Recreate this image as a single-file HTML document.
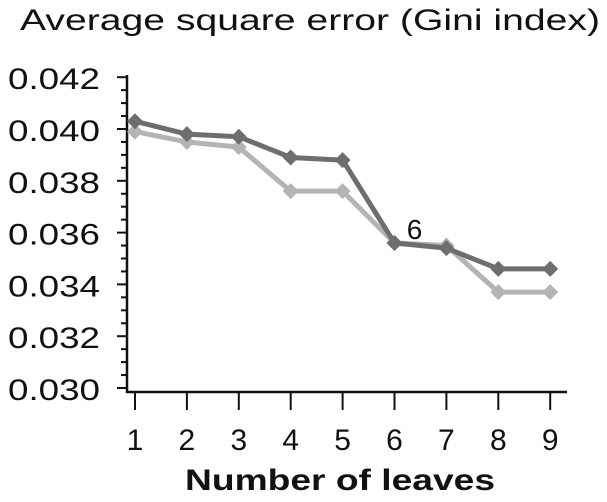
<!DOCTYPE html>
<html><head><meta charset="utf-8"><style>
html,body{margin:0;padding:0;background:#fff}
svg{display:block;font-family:"Liberation Sans",sans-serif}
</style></head><body>
<svg id="chart" width="607" height="502" viewBox="0 0 607 502">
<text x="20" y="30" font-size="30" textLength="580" lengthAdjust="spacingAndGlyphs" fill="#111">Average square error (Gini index)</text>
<g id="axes"></g>
<g id="series"></g>
<text x="340" y="490" font-size="30" font-weight="bold" text-anchor="middle" textLength="310" lengthAdjust="spacingAndGlyphs" fill="#111">Number of leaves</text>
</svg>
<script>
const categories = [1,2,3,4,5,6,7,8,9];
const darkSeries = [0.0403,0.0398,0.0397,0.0389,0.0388,0.0356,0.0354,0.0346,0.0346];
const lightSeries = [0.0399,0.0395,0.0393,0.0376,0.0376,0.0356,0.0355,0.0337,0.0337];
const yTicks = [0.030,0.032,0.034,0.036,0.038,0.040,0.042];
const yTickLabels = ["0.030","0.032","0.034","0.036","0.038","0.040","0.042"];
const annotationIndex = 5;
const annotationText = "6";

const NS="http://www.w3.org/2000/svg";
function xs(v){return 135+(v-1)*51.9;}
function ys(v){return 388-(v-0.030)/0.002*51.8;}
function mk(tag,attrs,parent){const e=document.createElementNS(NS,tag);for(const k in attrs)e.setAttribute(k,attrs[k]);parent.appendChild(e);return e;}
const axes=document.getElementById('axes');
const ser=document.getElementById('series');
let e=mk('line',{x1:127,y1:75,x2:127,y2:393,stroke:'#111','stroke-width':2.5},axes);


e=mk('line',{x1:126,y1:392,x2:567,y2:392,stroke:'#111','stroke-width':2.5},axes);


for(let v=0.030;v<=0.04201;v+=0.0005){
  const y=ys(v);const major=Math.abs(Math.round(v*1000)-v*1000)<1e-6&&Math.round(v*1000)%2===0;
  e=mk('line',{x1:major?117:121,y1:y,x2:127,y2:y,stroke:'#111','stroke-width':2},axes);
  
  
}
yTicks.forEach((v,i)=>{
  e=mk('text',{x:8,y:ys(v)+12,'font-size':30,textLength:92,lengthAdjust:'spacingAndGlyphs',fill:'#111'},axes);
  e.textContent=yTickLabels[i];
  
  
});
categories.forEach(c=>{
  const x=xs(c);
  e=mk('line',{x1:x,y1:393,x2:x,y2:410,stroke:'#111','stroke-width':2},axes);
  
  
  e=mk('text',{x:x,y:450,'font-size':30,'text-anchor':'middle',fill:'#111'},axes);
  e.textContent=String(c);
  
  
});
function drawSeries(vals,color,name){
  const pts=vals.map((v,i)=>xs(categories[i])+','+ys(v)).join(' ');
  let p=mk('polyline',{points:pts,fill:'none',stroke:color,'stroke-width':5,'stroke-linejoin':'round'},ser);
  
  
  vals.forEach((v,i)=>{
    const x=xs(categories[i]),y=ys(v);
    let m=mk('polygon',{points:`${x},${y-8} ${x+8},${y} ${x},${y+8} ${x-8},${y}`,fill:color},ser);
    
    
  });
}
drawSeries(lightSeries,'#b4b4b4','light-series');
drawSeries(darkSeries,'#6e6e6e','dark-series');
e=mk('text',{x:xs(categories[annotationIndex])+20,y:ys(darkSeries[annotationIndex])-4,'font-size':28,'text-anchor':'middle',fill:'#111'},ser);
e.textContent=annotationText;


</script>
</body></html>
